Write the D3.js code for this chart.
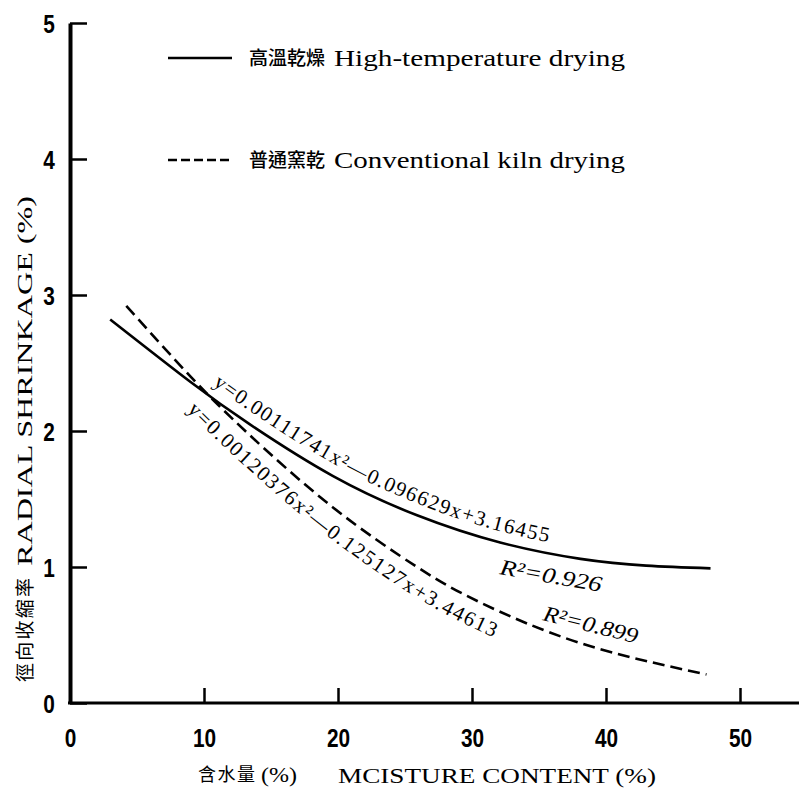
<!DOCTYPE html>
<html><head><meta charset="utf-8">
<script src="https://cdn.jsdelivr.net/npm/d3@7"></script>
<style>body{margin:0;background:#fff} svg{display:block}</style>
</head><body>
<svg id="c" width="799" height="789"></svg>
<script>
// ---- data ----
const xTicks = [0, 10, 20, 30, 40, 50];
const yTicks = [0, 1, 2, 3, 4, 5];
const highX = [3.0, 9.0, 13.4, 19.6, 25.9, 32.1, 38.1, 43.0, 47.8];
const highY = [2.82, 2.36, 2.05, 1.67, 1.38, 1.18, 1.06, 1.01, 0.99];
const convX = [4.2, 9.0, 13.3, 19.6, 25.9, 30.6, 38.1, 47.5];
const convY = [2.92, 2.40, 1.98, 1.44, 1.00, 0.74, 0.44, 0.21];
const seriesNames = ["高溫乾燥", "普通窯乾"];
const seriesNamesEn = ["High-temperature drying", "Conventional kiln drying"];
const eqHigh = "y=0.00111741x²—0.096629x+3.16455";
const eqConv = "y=0.00120376x²—0.125127x+3.44613";
const r2High = "R²=0.926";
const r2Conv = "R²=0.899";
const yTitleZh = "徑向收縮率";
const yTitleEn = "RADIAL SHRINKAGE (%)";
const xTitleZh = "含水量";
const xTitlePct = "(%)";
const xTitleEn = "MCISTURE CONTENT (%)";

const svg = d3.select('#c');
const x = d3.scaleLinear().domain([0, 50]).range([70, 740]);
const y = d3.scaleLinear().domain([0, 5]).range([703, 23]);
const serif = "'Liberation Serif', 'DejaVu Serif', serif";
const bold = "'Liberation Sans', Arial, sans-serif";
const cjk = "'Noto Sans CJK TC', 'Noto Sans CJK SC', sans-serif";

// ---- axes ----
const gx = svg.append('g').attr('transform', `translate(0,${y(0)})`)
  .call(d3.axisBottom(x).tickValues(xTicks).tickSizeInner(-15).tickSizeOuter(0).tickFormat(d3.format('d')));
gx.select('.domain').remove();
gx.selectAll('.tick line').attr('stroke', '#000').attr('stroke-width', 2.5);
gx.selectAll('.tick text').attr('y', 0).attr('dy', 0).attr('transform', 'translate(0,44) scale(0.8,1)')
  .style('font-family', bold).style('font-weight', 'bold').style('font-size', '26px').attr('fill', '#000');
svg.append('line').attr('x1', x(0) - 2).attr('x2', 799).attr('y1', y(0)).attr('y2', y(0))
  .attr('stroke', '#000').attr('stroke-width', 3);

const gy = svg.append('g').attr('transform', `translate(${x(0)},0)`)
  .call(d3.axisLeft(y).tickValues(yTicks).tickSizeInner(-17).tickSizeOuter(0).tickFormat(d3.format('d')));
gy.select('.domain').attr('stroke', '#000').attr('stroke-width', 4);
gy.selectAll('.tick line').attr('stroke', '#000').attr('stroke-width', 2.5);
gy.selectAll('.tick text').attr('x', 0).attr('dy', '0.36em').attr('text-anchor', 'middle')
  .attr('transform', 'translate(-21,0) scale(0.8,1)')
  .style('font-family', bold).style('font-weight', 'bold').style('font-size', '26px').attr('fill', '#000');

// ---- curves ----
const line = d3.line().x(d => x(d[0])).y(d => y(d[1])).curve(d3.curveNatural);
const highData = highX.map((v, i) => [v, highY[i]]);
const convData = convX.map((v, i) => [v, convY[i]]);
const pHigh = svg.append('path').datum(highData).attr('d', line)
  .attr('fill', 'none').attr('stroke', '#000').attr('stroke-width', 2.6);
const pConv = svg.append('path').datum(convData).attr('d', line)
  .attr('fill', 'none').attr('stroke', '#000').attr('stroke-width', 2.6).attr('stroke-dasharray', '12,6');

// offset path along a curve (positive dist = above/right side)
function offsetPath(node, dist, px0, px1, id) {
  const L = node.getTotalLength();
  const pts = [];
  for (let l = 1; l < L - 1; l += 2) {
    const a = node.getPointAtLength(l - 1), b = node.getPointAtLength(l + 1), p = node.getPointAtLength(l);
    let tx = b.x - a.x, ty = b.y - a.y; const n = Math.hypot(tx, ty); tx /= n; ty /= n;
    const q = [p.x + dist * ty, p.y - dist * tx];
    if (q[0] >= px0 && q[0] <= px1) pts.push(q);
  }
  svg.append('defs').append('path').attr('id', id).attr('d', d3.line()(pts));
}
offsetPath(pHigh.node(), 11, 212, 575, 'eqh');
offsetPath(pConv.node(), -26, 186, 520, 'eqc');

function eqText(id, str, len) {
  svg.append('text').style('font-family', serif).style('font-size', '21px').attr('fill', '#000')
    .append('textPath').attr('href', '#' + id).attr('textLength', len).attr('lengthAdjust', 'spacing')
    .text(str);
}
eqText('eqh', eqHigh, 374);
eqText('eqc', eqConv, 384);

svg.append('text').attr('transform', 'translate(499,574) rotate(10)').attr('textLength', 103)
  .attr('lengthAdjust', 'spacingAndGlyphs')
  .style('font-family', serif).style('font-size', '22px').style('font-style', 'italic').text(r2High);
svg.append('text').attr('transform', 'translate(542,620) rotate(14)').attr('textLength', 97)
  .attr('lengthAdjust', 'spacingAndGlyphs')
  .style('font-family', serif).style('font-size', '22px').style('font-style', 'italic').text(r2Conv);

// ---- legend ----
const legY = [58, 160];
svg.append('line').attr('x1', 168).attr('x2', 232).attr('y1', legY[0]).attr('y2', legY[0])
  .attr('stroke', '#000').attr('stroke-width', 2.6);
svg.append('line').attr('x1', 168).attr('x2', 232).attr('y1', legY[1]).attr('y2', legY[1])
  .attr('stroke', '#000').attr('stroke-width', 2.6).attr('stroke-dasharray', '9,4');
seriesNames.forEach((s, i) => {
  svg.append('text').attr('x', 249).attr('y', legY[i] + 7).attr('textLength', 76)
    .style('font-family', cjk).style('font-size', '19px').style('font-weight', 500).text(s);
  svg.append('text').attr('x', 334).attr('y', legY[i] + 8).attr('textLength', 291)
    .attr('lengthAdjust', 'spacingAndGlyphs')
    .style('font-family', serif).style('font-size', '23px').text(seriesNamesEn[i]);
});

// ---- axis titles ----
const yt = svg.append('g').attr('transform', 'translate(32,682) rotate(-90)');
yt.append('text').attr('x', 0).attr('y', 0).attr('textLength', 104)
  .style('font-family', cjk).style('font-size', '19px').text(yTitleZh);
yt.append('text').attr('x', 116).attr('y', 0).attr('textLength', 370)
  .attr('lengthAdjust', 'spacingAndGlyphs')
  .style('font-family', serif).style('font-size', '22px').text(yTitleEn);

svg.append('text').attr('x', 198).attr('y', 781).attr('textLength', 57)
  .style('font-family', cjk).style('font-size', '18px').text(xTitleZh);
svg.append('text').attr('x', 261).attr('y', 782).attr('textLength', 36)
  .attr('lengthAdjust', 'spacingAndGlyphs')
  .style('font-family', serif).style('font-size', '20px').text(xTitlePct);
svg.append('text').attr('x', 338).attr('y', 783).attr('textLength', 318)
  .attr('lengthAdjust', 'spacingAndGlyphs')
  .style('font-family', serif).style('font-size', '21px').text(xTitleEn);
</script>
</body></html>
